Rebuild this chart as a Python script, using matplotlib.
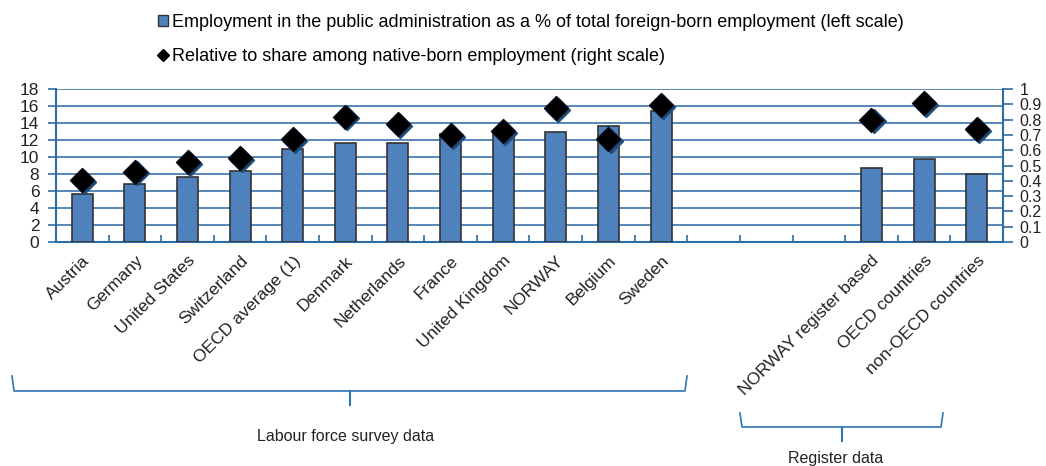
import matplotlib
matplotlib.use("Agg")
import matplotlib.pyplot as plt
from matplotlib.lines import Line2D
from matplotlib.patches import Patch
import numpy as np

plt.rcParams['font.family'] = ['Liberation Sans', 'DejaVu Sans']

categories = ["Austria", "Germany", "United States", "Switzerland", "OECD average (1)",
              "Denmark", "Netherlands", "France", "United Kingdom", "NORWAY", "Belgium",
              "Sweden", "", "", "", "NORWAY register based", "OECD countries",
              "non-OECD countries"]
share_pct = [5.7, 6.8, 7.7, 8.4, 10.9, 11.6, 11.7, 12.7, 12.9, 13.0, 13.6, 15.4,
             None, None, None, 8.7, 9.8, 8.0]
relative = [0.405, 0.46, 0.52, 0.547, 0.67, 0.82, 0.77, 0.70, 0.725, 0.874, 0.67, 0.895,
            None, None, None, 0.80, 0.91, 0.74]

bar_color = "#4f81bd"
axis_color = "#2e6ca4"
grid_color = "#3b73ad"
text_color = "#222222"

fig = plt.figure(figsize=(10.46, 4.66), dpi=100)
ax = fig.add_axes([56/1046, 1-242/466, (1003-56)/1046, (242-89)/466])
ax2 = ax.twinx()

x = np.arange(len(categories))
bx = [i for i, v in enumerate(share_pct) if v is not None]
bv = [v for v in share_pct if v is not None]
ax.bar(bx, bv, width=0.4, color=bar_color, edgecolor="#333333", linewidth=1.2, zorder=3)

mx = [i for i, v in enumerate(relative) if v is not None]
mv = [v for v in relative if v is not None]
# shadow
ax2.scatter(np.array(mx) + 0.04, np.array(mv) - 0.012, marker="D", s=150, color="#1f4e79", zorder=4)
ax2.scatter(mx, mv, marker="D", s=150, color="black", edgecolor="#0a0a1a", zorder=5)

ax.set_xlim(-0.5, len(categories) - 0.5)
ax.set_ylim(0, 18)
ax.set_yticks(range(0, 19, 2))
ax2.set_ylim(0, 1)
ax2.set_yticks([0, 0.1, 0.2, 0.3, 0.4, 0.5, 0.6, 0.7, 0.8, 0.9, 1])
ax2.set_yticklabels(["0", "0.1", "0.2", "0.3", "0.4", "0.5", "0.6", "0.7", "0.8", "0.9", "1"])

ax.yaxis.grid(True, color=grid_color, linewidth=1.2, zorder=0)
ax.set_axisbelow(True)

for a in (ax, ax2):
    for s in a.spines.values():
        s.set_visible(False)
ax.spines['left'].set_visible(True)
ax.spines['left'].set_color(axis_color)
ax.spines['left'].set_linewidth(1.5)
ax.spines['bottom'].set_visible(True)
ax.spines['bottom'].set_color(axis_color)
ax.spines['bottom'].set_linewidth(1.5)
ax2.spines['right'].set_visible(True)
ax2.spines['right'].set_color(axis_color)
ax2.spines['right'].set_linewidth(1.5)

ax.tick_params(axis='y', colors=axis_color, length=6, width=1.2, labelsize=12.5, labelcolor=text_color, pad=6)
ax2.tick_params(axis='y', colors=axis_color, length=7, width=1.2, labelsize=11.5, labelcolor=text_color, pad=5)

ax.set_xticks(x)
ax.set_xticklabels(categories, rotation=45, ha='right', rotation_mode='anchor', fontsize=12.5, color=text_color)
ax.tick_params(axis='x', length=0, pad=8)
ax.set_xticks(np.arange(0.5, len(categories) - 0.5, 1), minor=True)
ax.tick_params(axis='x', which='minor', direction='in', length=5, width=1.2, colors=axis_color)

# legend
handles = [Patch(facecolor=bar_color, edgecolor="#333333", linewidth=1),
           Line2D([], [], marker="D", linestyle="none", color="black", markersize=6)]
labels = ["Employment in the public administration as a % of total foreign-born employment (left scale)",
          "Relative to share among native-born employment (right scale)"]
fig.legend(handles, labels, loc="upper left", bbox_to_anchor=(158/1046, 1 - 14/466),
           frameon=False, fontsize=13, handlelength=0.55, handleheight=0.55, handletextpad=0.25,
           labelspacing=0.95, borderpad=0, borderaxespad=0)

# braces
def brace(x0, x1, ytop, ybot, ytip, color="#2e75b6"):
    xm = (x0 + x1) / 2
    W, H = 1046, 466
    fx = lambda v: v / W
    fy = lambda v: 1 - v / H
    fig.add_artist(Line2D([fx(x0), fx(x0 + 2), fx(x1 - 2), fx(x1)],
                          [fy(ytop), fy(ybot), fy(ybot), fy(ytop)], color=color, lw=1.2))
    fig.add_artist(Line2D([fx(xm), fx(xm)], [fy(ybot), fy(ytip)], color=color, lw=1.5))

brace(12, 687, 376, 391, 405)
fig.text(346 / 1046, 1 - 437 / 466, "Labour force survey data", ha="center", va="center", fontsize=11.5, color=text_color)
brace(740, 943, 413, 427, 441)
fig.text(836 / 1046, 1 - 458 / 466, "Register data", ha="center", va="center", fontsize=11.5, color=text_color)

fig.savefig("out.png", dpi=100)
